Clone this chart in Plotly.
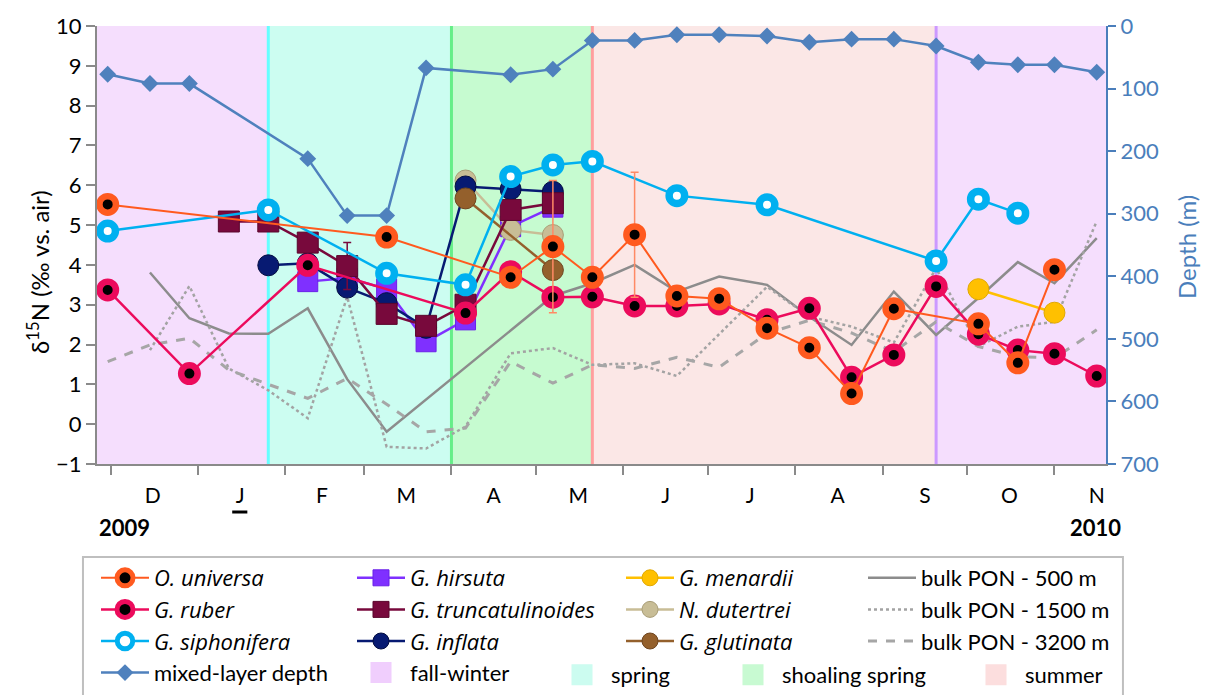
import plotly.graph_objects as go

FONT = "Lato"
IFONT = "Open Sans"
N = None

# ---------------- data ----------------
sample_dates = ["2009-11-30", "2009-12-15", "2009-12-29", "2010-01-12", "2010-01-26",
                "2010-02-09", "2010-02-23", "2010-03-09", "2010-03-23", "2010-04-06",
                "2010-04-22", "2010-05-07", "2010-05-21", "2010-06-05", "2010-06-20",
                "2010-07-05", "2010-07-22", "2010-08-06", "2010-08-21", "2010-09-05",
                "2010-09-20", "2010-10-05", "2010-10-19", "2010-11-01", "2010-11-16"]

o_universa     = [5.52, N, N, N, N, N, N, 4.70, N, N, 3.69, 4.46, 3.69, 4.76, 3.22, 3.15, 2.41, 1.92, 0.77, 2.90, N, 2.52, 1.54, 3.88, N]
o_universa_err = [0, 0, 0, 0, 0, 0, 0, 0, 0, 0, 0, 1.66, 0, 1.57, 0, 0, 0, 0, 0, 0, 0, 0, 0, 0, 0]
g_ruber        = [3.37, N, 1.27, N, N, 3.99, N, N, N, 2.79, 3.83, 3.19, 3.20, 2.97, 2.97, 3.02, 2.62, 2.91, 1.18, 1.74, 3.46, 2.26, 1.86, 1.77, 1.21]
g_siphonifera  = [4.85, N, N, N, 5.38, N, N, 3.79, N, 3.50, 6.22, 6.51, 6.60, N, 5.74, N, 5.51, N, N, N, 4.10, 5.65, 5.30, N, N]
g_hirsuta      = [N, N, N, N, N, 3.58, 3.67, 3.40, 2.07, 2.62, 4.96, 5.45, N, N, N, N, N, N, N, N, N, N, N, N, N]
g_truncatulinoides     = [N, N, N, 5.09, 5.09, 4.56, 3.97, 2.77, 2.47, 3.00, 5.38, 5.55, N, N, N, N, N, N, N, N, N, N, N, N, N]
g_truncatulinoides_err = [0, 0, 0, 0, 0, 0, 0.59, 0, 0, 0, 0, 0, 0, 0, 0, 0, 0, 0, 0, 0, 0, 0, 0, 0, 0]
g_inflata      = [N, N, N, N, 3.99, 4.04, 3.43, 3.04, 2.42, 5.97, 5.90, 5.84, N, N, N, N, N, N, N, N, N, N, N, N, N]
g_menardii     = [N, N, N, N, N, N, N, N, N, N, N, N, N, N, N, N, N, N, N, N, N, 3.39, N, 2.80, N]
n_dutertrei    = [N, N, N, N, N, N, N, N, N, 6.12, 4.88, 4.75, N, N, N, N, N, N, N, N, N, N, N, N, N]
g_glutinata    = [N, N, N, N, N, N, N, N, N, 5.67, N, 3.87, N, N, N, N, N, N, N, N, N, N, N, N, N]
pon_500  = [N, 3.81, 2.66, 2.28, 2.27, 2.91, 1.13, -0.19, N, N, N, 3.22, 3.54, 4.00, 3.33, 3.71, 3.50, 2.70, 1.99, 3.33, 2.24, 3.17, 4.07, 3.54, 4.67]
pon_1500 = [N, 1.86, 3.47, 1.40, 0.85, 0.15, 3.20, -0.57, -0.61, -0.06, 1.78, 1.91, 1.49, 1.53, 1.21, 2.26, 3.45, 2.70, 2.45, 2.05, 3.92, 1.95, 2.45, 2.57, 5.10]
pon_3200 = [1.57, 1.99, 2.16, 1.36, 1.00, 0.65, 1.15, 0.50, -0.19, -0.10, 1.57, 1.03, 1.49, 1.40, 1.68, 1.43, 2.28, 2.61, 2.29, 1.82, 2.57, 1.95, 1.70, 1.66, 2.37]
mixed_layer_depth = [77, 92, 92, N, N, 212, 303, 303, 67, N, 78, 69, 23, 23, 14, 14, 16, 26, 21, 21, 32, 58, 62, 62, 74]

x_range = ["2009-11-26 05:00", "2010-11-19 07:00"]
season_edges = ["2009-11-26 05:00", "2010-01-26", "2010-04-01", "2010-05-21", "2010-09-20", "2010-11-19 07:00"]
season_names = ["fall-winter", "spring", "shoaling spring", "summer", "fall-winter"]

month_starts = ["2009-12-01", "2010-01-01", "2010-02-01", "2010-03-01", "2010-04-01", "2010-05-01",
                "2010-06-01", "2010-07-01", "2010-08-01", "2010-09-01", "2010-10-01", "2010-11-01"]
month_mids = ["2009-12-16", "2010-01-16", "2010-02-14", "2010-03-16", "2010-04-16", "2010-05-16",
              "2010-06-16", "2010-07-16", "2010-08-16", "2010-09-16", "2010-10-16", "2010-11-16"]
month_labels = ["D", "J", "F", "M", "A", "M", "J", "J", "A", "S", "O", "N"]
year_labels = ["2009", "2010"]
left_title = "δ<sup>15</sup>N (‰ vs. air)"
right_title = "Depth (m)"

# ---------------- styles ----------------
season_fill = {"fall-winter": "rgb(245,222,253)", "spring": "rgb(204,253,241)",
               "shoaling spring": "rgb(198,251,208)", "summer": "rgb(251,231,230)"}
season_swatch = {"fall-winter": "rgb(240,206,253)", "spring": "rgb(204,252,240)",
                 "shoaling spring": "rgb(200,250,210)", "summer": "rgb(252,222,222)"}
season_legend = {"fall-winter": "legend2", "spring": "legend5",
                 "shoaling spring": "legend6", "summer": "legend7"}
edge_colors = ["#66FFFF", "#66EE88", "#FF9E9E", "#CC99FF"]


def sp(name):
    return '<span style="font-family:%s"><i>%s</i></span>' % (IFONT, name)


fig = go.Figure()


def add_series(y, name, color, legend, rank, symbol="circle", size=21, fill=None,
               mline=None, mlw=1, lw=2.5, err=None, errcolor=None, dash="solid", mode="lines+markers"):
    kw = {}
    if err is not None:
        kw["error_y"] = dict(type="data", array=err, visible=True, color=errcolor,
                             thickness=1.5, width=4)
    fig.add_trace(go.Scatter(
        x=sample_dates, y=y, name=name, mode=mode, connectgaps=True, legend=legend, legendrank=rank,
        line=dict(color=color, width=lw, dash=dash),
        marker=dict(symbol=symbol, size=size, color=fill if fill else color,
                    line=dict(color=mline if mline else color, width=mlw)),
        **kw))


# bulk PON (drawn first, below)
add_series(pon_500, "bulk PON - 500 m", "#8C8C8C", "legend4", 1, lw=2.5, mode="lines")
add_series(pon_1500, "bulk PON - 1500 m", "#A3A3A3", "legend4", 2, lw=2.5, dash="dot", mode="lines")
add_series(pon_3200, "bulk PON - 3200 m", "#A6A6A6", "legend4", 3, lw=3, dash="dash", mode="lines")

# mixed-layer depth on right axis
fig.add_trace(go.Scatter(x=sample_dates, y=mixed_layer_depth, name="mixed-layer depth",
                         yaxis="y2", mode="lines+markers", connectgaps=True, legend="legend", legendrank=4,
                         line=dict(color="#4F81BD", width=2.5),
                         marker=dict(symbol="diamond", size=13, color="#4F81BD")))

add_series(g_hirsuta, sp("G. hirsuta"), "#7F30FF", "legend2", 1, symbol="square", size=20, mline="#6A20E8")
add_series(n_dutertrei, sp("N. dutertrei"), "#C8BD96", "legend3", 2, mline="#A99D76")
add_series(g_inflata, sp("G. inflata"), "#071A72", "legend2", 3, mline="#020C40")
add_series(g_glutinata, sp("G. glutinata"), "#94602C", "legend3", 3, mline="#6F4620")
add_series(g_truncatulinoides, sp("G. truncatulinoides"), "#78093C", "legend2", 2, symbol="square",
           size=21, mline="#5A062C", err=g_truncatulinoides_err, errcolor="#78093C")
add_series(g_menardii, sp("G. menardii"), "#FFC000", "legend3", 1, mline="#E0A800")
add_series(g_siphonifera, sp("G. siphonifera"), "#00B0F0", "legend", 3, size=15.5, fill="white",
           mlw=7.5, lw=2.5)
add_series(g_ruber, sp("G. ruber"), "#EC0B5C", "legend", 2, size=16.5, fill="black", mlw=6.5, lw=2.5)
add_series(o_universa, sp("O. universa"), "#FF5A1F", "legend", 1, size=16.5, fill="black", mlw=6.5,
           lw=2, err=o_universa_err, errcolor="#FF8A65")

# legend swatches for the season bands
for nm in ["fall-winter", "spring", "shoaling spring", "summer"]:
    fig.add_trace(go.Scatter(x=[None], y=[None], mode="markers", name=nm, legend=season_legend[nm],
                             legendrank=4,
                             marker=dict(symbol="square", size=16, color=season_swatch[nm],
                                         line=dict(color=season_swatch[nm], width=5))))

# ---------------- season bands ----------------
shapes = []
for i, nm in enumerate(season_names):
    shapes.append(dict(type="rect", xref="x", yref="y domain", x0=season_edges[i], x1=season_edges[i + 1],
                       y0=0, y1=1, fillcolor=season_fill[nm], line=dict(width=0), layer="below"))
for i, c in enumerate(edge_colors):
    shapes.append(dict(type="line", xref="x", yref="y domain", x0=season_edges[i + 1], x1=season_edges[i + 1],
                       y0=0, y1=1, line=dict(color=c, width=3), layer="below"))
# legend box
shapes.append(dict(type="rect", xref="paper", yref="paper", x0=-0.0139, x1=1.0168, y0=-0.2123, y1=-0.56,
                   line=dict(color="#BFBFBF", width=2), fillcolor="rgba(0,0,0,0)"))
# underline below J
shapes.append(dict(type="line", xref="paper", yref="paper", x0=0.134, x1=0.149, y0=-0.1096, y1=-0.1096,
                   line=dict(color="black", width=3)))

GRAY = "#8A8A8A"
BLUE = "#4A7EBB"


def leg(text_px, top_px):
    iw = 48
    return dict(xref="container", yref="container",
                x=(text_px - iw - 11) / 1220, y=1 - top_px / 695, xanchor="left", yanchor="top",
                bgcolor="rgba(0,0,0,0)", borderwidth=0, font=dict(family=FONT, size=22, color="black"),
                traceorder="normal", itemsizing="trace", itemwidth=iw)


fig.update_layout(
    width=1220, height=695,
    margin=dict(l=97, r=114, t=26, b=231, autoexpand=False),
    paper_bgcolor="white", plot_bgcolor="white",
    font=dict(family=FONT, size=21, color="black"),
    shapes=shapes,
    xaxis=dict(type="date", range=x_range, showgrid=False, zeroline=False,
               showline=True, linecolor=GRAY, linewidth=2,
               tickmode="array", tickvals=month_mids, ticktext=month_labels, ticks="",
               ticklabelstandoff=12, tickfont=dict(size=21, family=FONT),
               minor=dict(tickmode="array", tickvals=month_starts, ticks="outside",
                          ticklen=9, tickwidth=1.5, tickcolor=GRAY, showgrid=False)),
    yaxis=dict(range=[-1, 10], dtick=1, showgrid=False, zeroline=False,
               showline=True, linecolor=GRAY, linewidth=2, ticks="outside", ticklen=9,
               tickwidth=1.5, tickcolor=GRAY, tickfont=dict(size=22, family=FONT)),
    yaxis2=dict(range=[700, 0], dtick=100, overlaying="y", side="right", showgrid=False, zeroline=False,
                showline=True, linecolor=BLUE, linewidth=2, ticks="outside", ticklen=8, tickwidth=1.5,
                tickcolor=BLUE, tickfont=dict(size=22, family=FONT, color=BLUE)),
    legend=leg(155, 557),
    legend2=leg(411, 557),
    legend3=leg(680, 557),
    legend4=leg(922, 557),
    legend5=leg(612, 654),
    legend6=leg(783, 654),
    legend7=leg(1026, 654),
    annotations=[
        dict(text=left_title, xref="paper", yref="paper", x=(38 - 97) / 1009, y=(464 - 272) / 438,
             xanchor="center", yanchor="middle", textangle=-90, showarrow=False,
             font=dict(size=24, family=FONT, color="black")),
        dict(text=right_title, xref="paper", yref="paper", x=(1187 - 97) / 1009, y=(464 - 247) / 438,
             xanchor="center", yanchor="middle", textangle=-90, showarrow=False,
             font=dict(size=24, family=FONT, color=BLUE)),
        dict(text="<b>" + year_labels[0] + "</b>", xref="paper", yref="paper", x=0.027, y=-0.144,
             xanchor="center", yanchor="middle", showarrow=False, font=dict(size=22, family=FONT)),
        dict(text="<b>" + year_labels[1] + "</b>", xref="paper", yref="paper", x=0.99, y=-0.144,
             xanchor="center", yanchor="middle", showarrow=False, font=dict(size=22, family=FONT)),
    ],
)

fig.write_html("out.html")
